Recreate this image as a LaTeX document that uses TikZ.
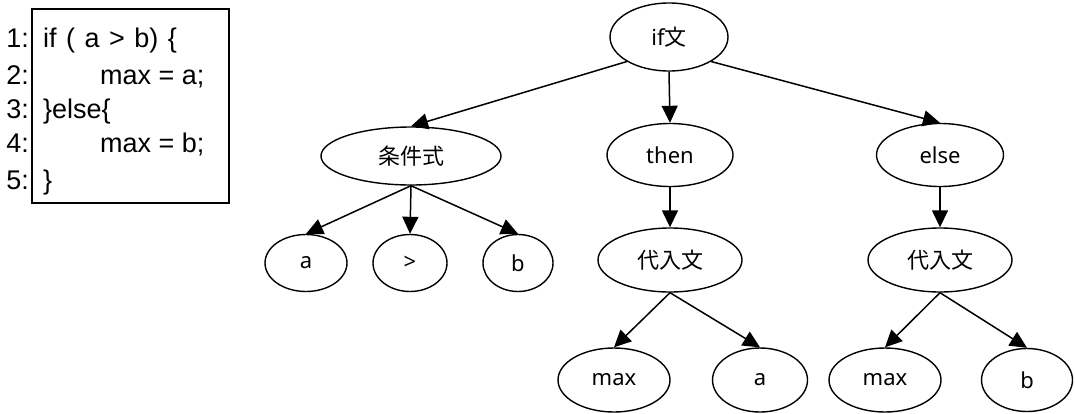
\documentclass[tikz,border=0pt]{standalone}
\usepackage{fontspec}
\setmainfont{Noto Sans}
\newfontfamily\jp{Noto Sans CJK JP}
\newfontfamily\codefont{Liberation Sans}
\usetikzlibrary{shapes.geometric,arrows.meta}

\tikzset{
  tn/.style={ellipse, draw, line width=1.4pt, inner sep=0pt,
             font=\fontsize{22}{26}\selectfont},
  edge/.style={line width=1.5pt, -{Triangle[length=17pt,width=16pt]}},
  codeline/.style={anchor=base west, inner sep=0pt,
                   font=\codefont\fontsize{27}{30}\selectfont},
  lineno/.style={anchor=base east, inner sep=0pt,
                 font=\codefont\fontsize{27}{30}\selectfont},
}

\begin{document}
\begin{tikzpicture}[x=1pt, y=-1pt]
\useasboundingbox (0,0) rectangle (1075,413);

% source listing
\node[draw, line width=1.3pt, minimum width=197pt, minimum height=194pt,
      inner sep=0pt] (box) at (130.5,106) {};
\node[lineno] (n1) at (29,47)  {1:};
\node[lineno] (n2) at (29,84)  {2:};
\node[lineno] (n3) at (29,118) {3:};
\node[lineno] (n4) at (29,152) {4:};
\node[lineno] (n5) at (29,189) {5:};
\node[codeline] (c1) at (43,47)  {\spaceskip=9.5pt\relax if ( a > b) \{};
\node[codeline] (c2) at (100,84) {max = a;};
\node[codeline] (c3) at (43,118) {\}else\{};
\node[codeline] (c4) at (100,152) {max = b;};
\node[codeline] (c5) at (43,189) {\}};

% syntax tree nodes
\node[tn, minimum width=118pt, minimum height=68pt] (if)   at (669,37)  {if{\jp 文}};
\node[tn, minimum width=180pt, minimum height=58pt] (cond) at (411,156) {\jp 条件式};
\node[tn, minimum width=126pt, minimum height=63pt] (then) at (670,155) {then};
\node[tn, minimum width=127pt, minimum height=63pt] (else) at (940,155) {else};

\node[tn, minimum width=82pt, minimum height=57pt] (ca) at (306,263) {a};
\node[tn, minimum width=74pt, minimum height=57pt] (cg) at (410,263) {>};
\node[tn, minimum width=70pt, minimum height=57pt] (cb) at (518,263) {b};

\node[tn, minimum width=144pt, minimum height=64pt] (as1) at (670,260) {\jp 代入文};
\node[tn, minimum width=144pt, minimum height=64pt] (as2) at (940,260) {\jp 代入文};

\node[tn, minimum width=112pt, minimum height=64pt] (m1) at (614,380) {max};
\node[tn, minimum width=95pt,  minimum height=64pt] (v1) at (760,380) {a};
\node[tn, minimum width=112pt, minimum height=64pt] (m2) at (885,380) {max};
\node[tn, minimum width=91pt,  minimum height=63pt] (v2) at (1027,380) {b};

% connectors
\draw[edge] (if.south west) -- (cond.north);
\draw[edge] (if.south) -- (then.north);
\draw[edge] (if.south east) -- (else.north);

\draw[edge] (cond.south) -- (ca.north);
\draw[edge] (cond.south) -- (cg.north);
\draw[edge] (cond.south) -- (cb.north);

\draw[edge] (then.south) -- (as1.north);
\draw[edge] (else.south) -- (as2.north);

\draw[edge] (as1.south) -- (m1.north);
\draw[edge] (as1.south) -- (v1.north);
\draw[edge] (as2.south) -- (m2.north);
\draw[edge] (as2.south) -- (v2.north);
\end{tikzpicture}
\end{document}
